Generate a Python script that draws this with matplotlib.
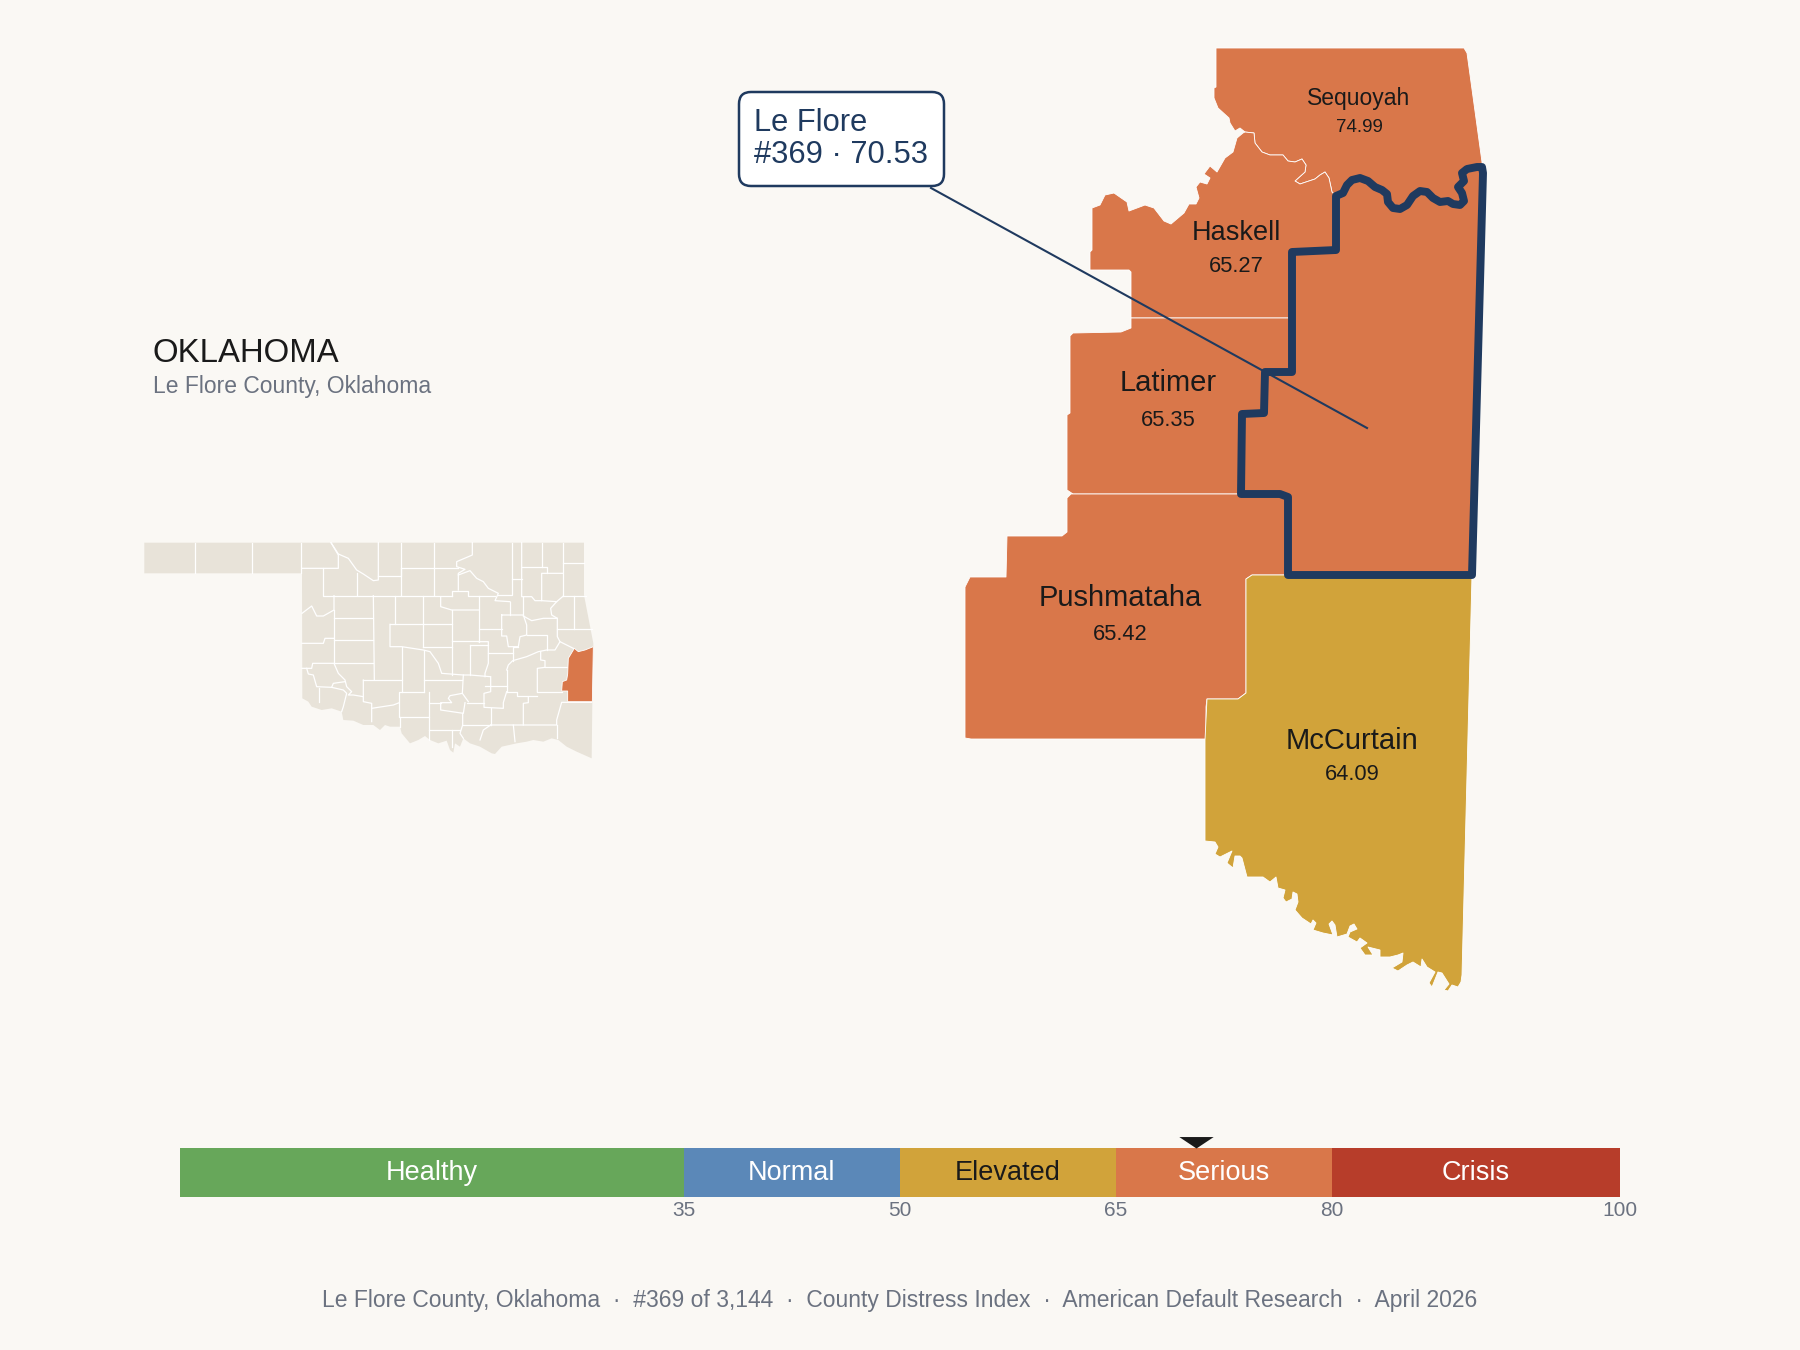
import matplotlib
matplotlib.use("Agg")
import matplotlib.pyplot as plt
from matplotlib.patches import FancyBboxPatch, Polygon

plt.rcParams['font.family'] = ['Liberation Sans', 'DejaVu Sans']

BG = "#FAF8F4"
ORANGE = "#D9774A"
GOLD = "#D1A33A"
NAVY = "#1F3A5F"
INK = "#1A1A1A"
GREY = "#6B7280"
LAND = "#E8E3D9"

# severity scale
band_names = ["Healthy", "Normal", "Elevated", "Serious", "Crisis"]
band_edges = [0, 35, 50, 65, 80, 100]
band_colors = ["#67A75A", "#5B88B8", GOLD, ORANGE, "#B73D2A"]
band_text = ["white", "white", INK, "white", "white"]
tick_values = [35, 50, 65, 80, 100]
score = 70.53

# neighbouring counties: name, score, colour, label position, sizes
county_names = ["Sequoyah", "Haskell", "Latimer", "Pushmataha", "McCurtain"]
county_scores = [74.99, 65.27, 65.35, 65.42, 64.09]
county_colors = [ORANGE, ORANGE, ORANGE, ORANGE, GOLD]
label_xy = [(1359, 98), (1236, 233), (1168, 383), (1120, 598), (1352, 741)]
value_y = [128, 267, 420, 635, 775]
name_sizes = [11, 13, 14, 14, 14]
value_sizes = [9, 10.5, 10.5, 10.5, 10.5]

# outlines, in map units of the main panel
river_north = [(1336, 196), (1343, 193), (1347, 185), (1352, 180), (1360, 178), (1368, 181),
               (1375, 187), (1382, 190), (1387, 194), (1388, 202), (1393, 208), (1400, 209),
               (1407, 205), (1413, 196), (1420, 191), (1427, 192), (1433, 198), (1440, 202),
               (1448, 201), (1453, 204), (1460, 205), (1464, 201), (1462, 193), (1458, 187),
               (1464, 181), (1462, 173), (1467, 169), (1477, 167), (1482, 167)]
leflore_rest = [(1483, 173), (1472, 575), (1288, 575), (1288, 497), (1280, 494),
                (1241, 494), (1242, 414), (1264, 413), (1265, 372), (1292, 372),
                (1292, 252), (1336, 250)]
river_west = [(1332, 192), (1329, 178), (1325, 172), (1320, 175), (1315, 179), (1300, 184),
              (1295, 181), (1305, 172), (1306, 165), (1302, 159), (1295, 162), (1288, 161),
              (1283, 155), (1270, 155), (1262, 152), (1255, 143), (1254, 133), (1245, 132)]
sequoyah_north = [(1240, 128), (1235, 131), (1230, 123), (1229, 118), (1218, 108), (1214, 98),
                  (1214, 88), (1216, 87), (1216, 48), (1464, 48), (1467, 53), (1482, 162)]
haskell_north = [(1243, 133), (1237, 138), (1233, 152), (1225, 158), (1217, 172),
                 (1210, 166), (1204, 174), (1210, 178), (1207, 184), (1200, 182),
                 (1196, 187), (1199, 198), (1196, 204), (1189, 204), (1184, 213),
                 (1171, 224), (1164, 221), (1154, 208), (1145, 205), (1129, 211),
                 (1127, 202), (1114, 193), (1105, 195), (1100, 205), (1092, 208),
                 (1092, 250), (1090, 252), (1090, 270), (1129, 270), (1131, 272),
                 (1131, 318), (1292, 318), (1292, 252), (1336, 250), (1336, 196)]
latimer = [(1131, 318), (1131, 328), (1121, 332), (1073, 333), (1070, 336), (1070, 413),
           (1067, 415), (1067, 490), (1073, 494), (1241, 494), (1242, 414), (1264, 413),
           (1265, 372), (1292, 372), (1292, 318)]
pushmataha = [(1067, 498), (1071, 494), (1288, 494), (1288, 575), (1252, 575), (1246, 579),
              (1246, 693), (1238, 699), (1207, 699), (1206, 707), (1206, 739), (971, 739),
              (965, 738), (965, 587), (970, 577), (1006, 577), (1007, 536), (1062, 536),
              (1067, 532)]
mccurtain = [(1246, 579), (1252, 575), (1472, 575), (1462, 975), (1461, 982), (1458, 987),
             (1452, 985), (1448, 991), (1444, 990), (1449, 984), (1442, 973), (1438, 972),
             (1432, 987), (1429, 983), (1435, 972), (1427, 967), (1422, 959), (1421, 967),
             (1413, 962), (1407, 965), (1398, 971), (1392, 968), (1402, 962), (1403, 953),
             (1398, 955), (1390, 957), (1380, 957), (1380, 950), (1368, 947), (1373, 955),
             (1365, 955), (1360, 948), (1367, 943), (1360, 938), (1357, 942), (1348, 937),
             (1350, 932), (1357, 929), (1354, 924), (1350, 926), (1347, 934), (1337, 937),
             (1335, 925), (1332, 921), (1329, 924), (1333, 935), (1323, 933), (1313, 930),
             (1316, 923), (1313, 920), (1311, 924), (1302, 918), (1295, 910), (1298, 902),
             (1297, 894), (1293, 892), (1292, 899), (1286, 902), (1283, 898), (1285, 890),
             (1278, 888), (1276, 877), (1270, 882), (1263, 877), (1247, 877), (1242, 858),
             (1240, 856), (1235, 856), (1233, 868), (1227, 863), (1232, 851), (1228, 853),
             (1220, 857), (1215, 854), (1218, 847), (1215, 842), (1205, 841), (1205, 740),
             (1207, 699), (1238, 699), (1246, 693)]

sequoyah = river_north + sequoyah_north[::-1] + river_west[::-1]
haskell = river_west + haskell_north
leflore = river_north + leflore_rest

# state locator map, in its own units
state_outline = [(43, 38), (1362, 38), (1362, 195), (1390, 340), (1390, 350), (1387, 515), (1385, 685),
                 (1340, 665), (1310, 650), (1285, 630), (1265, 625), (1240, 635), (1210, 630),
                 (1190, 635), (1160, 640), (1115, 650), (1095, 672), (1085, 670), (1050, 650),
                 (1020, 640), (1000, 625), (990, 650), (975, 640), (970, 668), (960, 660),
                 (950, 632), (925, 640), (900, 630), (885, 618), (865, 630), (840, 640),
                 (815, 610), (810, 590), (780, 590), (765, 585), (750, 600), (730, 585),
                 (700, 585), (670, 572), (640, 570), (635, 545), (605, 535), (575, 540),
                 (545, 530), (535, 515), (517, 505), (516, 130), (43, 130)]
leflore_inset = [(1333, 355), (1345, 365), (1365, 360), (1390, 350), (1387, 515), (1313, 515),
                 (1313, 483), (1295, 483), (1297, 455), (1310, 450), (1313, 432), (1315, 385)]
county_lines = [
    [(195, 38), (195, 130)], [(365, 38), (365, 130)], [(513, 38), (513, 130)],
    [(516, 115), (625, 115), (625, 75), (603, 38)],
    [(603, 38), (625, 72), (655, 85), (680, 120), (700, 132), (730, 152), (745, 150), (745, 38)],
    [(745, 138), (812, 138), (812, 38)], [(812, 115), (912, 115), (912, 38)], [(912, 115), (985, 115)],
    [(1027, 38), (1027, 75), (980, 95), (980, 110), (1005, 118), (985, 130), (985, 180)],
    [(912, 115), (912, 195)], [(812, 115), (812, 195)], [(680, 130), (680, 195)],
    [(578, 115), (578, 197), (965, 197)], [(965, 197), (965, 182), (1015, 182), (1015, 198), (1095, 198)],
    [(985, 135), (1020, 122), (1040, 145), (1060, 155), (1075, 175), (1105, 190), (1095, 212), (1140, 215)],
    [(1145, 38), (1145, 195), (1105, 195)], [(1175, 38), (1175, 200), (1205, 200), (1215, 212), (1235, 212), (1235, 130), (1300, 130)],
    [(1145, 148), (1175, 148)], [(1175, 112), (1250, 112), (1250, 130)], [(1235, 38), (1235, 112)],
    [(1300, 38), (1300, 198)], [(1300, 100), (1362, 100)], [(1235, 212), (1280, 215)], [(1300, 198), (1368, 198)],
    [(1332, 198), (1332, 298)], [(1280, 298), (1385, 298)],
    [(1300, 198), (1280, 215), (1262, 235), (1265, 255), (1282, 265), (1282, 320), (1290, 335)],
    [(612, 197), (612, 240), (580, 258), (560, 258), (545, 228), (516, 250)],
    [(612, 240), (612, 400)], [(612, 265), (730, 265)], [(612, 330), (730, 330)], [(612, 400), (730, 400)],
    [(730, 197), (733, 450)], [(796, 197), (796, 283)], [(880, 197), (880, 350)], [(780, 283), (965, 283)],
    [(780, 283), (780, 350), (815, 350), (880, 360), (900, 365), (925, 400), (935, 430), (1000, 435), (1020, 435), (1080, 440)],
    [(880, 350), (965, 350)], [(815, 350), (815, 485)], [(965, 240), (965, 435)],
    [(932, 200), (932, 230), (965, 240), (1048, 240)], [(1048, 198), (1048, 335)], [(965, 333), (1048, 333)],
    [(1048, 298), (1115, 298)],
    [(1115, 255), (1180, 255), (1190, 285), (1190, 315), (1170, 320), (1165, 350), (1135, 350), (1130, 318), (1115, 318), (1115, 255)],
    [(1140, 215), (1140, 255)], [(1180, 200), (1180, 255)], [(1180, 258), (1205, 272), (1240, 265), (1282, 265)],
    [(1190, 315), (1250, 315), (1250, 360)], [(1165, 350), (1148, 350), (1148, 392)],
    [(1045, 335), (1075, 335), (1075, 400), (1065, 430), (1065, 440)], [(1020, 345), (1020, 435)], [(1020, 345), (1075, 345)],
    [(1075, 368), (1148, 368)],
    [(1130, 420), (1135, 405), (1148, 392), (1190, 380), (1225, 365), (1250, 360), (1275, 360), (1290, 335), (1330, 355)],
    [(1232, 365), (1232, 390), (1245, 392), (1245, 412), (1222, 415), (1222, 485)], [(1130, 420), (1130, 485)],
    [(1245, 412), (1315, 412)], [(1130, 485), (1160, 485), (1160, 498), (1222, 498)], [(1222, 485), (1295, 485)],
    [(1195, 500), (1195, 518), (1180, 520), (1180, 585)],
    [(1082, 440), (1082, 485), (1062, 490), (1062, 532), (1120, 535), (1120, 518), (1130, 485)],
    [(1065, 468), (1130, 468)], [(1062, 518), (1010, 518)], [(1082, 535), (1082, 585)],
    [(1000, 435), (997, 490), (1015, 515)], [(997, 490), (960, 497), (955, 505), (965, 518), (932, 518), (932, 540), (1000, 550), (1005, 518)],
    [(883, 450), (997, 450)], [(883, 360), (883, 485)], [(883, 485), (808, 485), (808, 560), (898, 560), (898, 485)],
    [(898, 518), (932, 518)], [(998, 550), (998, 585), (990, 610), (1000, 625)], [(998, 585), (1082, 585)],
    [(1082, 585), (1060, 600), (1050, 630)], [(1082, 585), (1150, 585), (1155, 635)],
    [(1150, 585), (1280, 585), (1280, 570), (1295, 517), (1385, 517)], [(1280, 585), (1280, 625)],
    [(898, 560), (898, 630)], [(898, 600), (990, 600)], [(965, 600), (965, 650)], [(810, 560), (810, 590)],
    [(700, 450), (815, 450)], [(700, 450), (700, 515), (725, 520), (725, 575)], [(725, 535), (790, 525), (808, 518)],
    [(516, 415), (545, 415), (548, 400), (612, 400), (625, 430), (645, 450), (650, 470), (665, 485), (655, 495), (670, 495), (700, 500)],
    [(516, 340), (580, 340), (585, 325), (612, 325)],
    [(530, 415), (535, 432), (550, 435), (560, 470), (605, 472), (610, 460), (645, 455)],
    [(568, 475), (568, 515)], [(605, 472), (640, 480), (650, 490), (640, 530), (635, 545)],
]

fig = plt.figure(figsize=(12, 9), dpi=150, facecolor=BG)

ax = fig.add_axes([0, 0, 1, 1])
ax.set_xlim(0, 1800)
ax.set_ylim(1350, 0)
ax.axis("off")

outlines = [sequoyah, haskell, latimer, pushmataha, mccurtain]
for shape, color in zip(outlines, county_colors):
    ax.add_patch(Polygon(shape, closed=True, facecolor=color, edgecolor="white", linewidth=0.4,
                         joinstyle="round"))
ax.add_patch(Polygon(leflore, closed=True, facecolor=ORANGE, edgecolor=NAVY, linewidth=3.8,
                     joinstyle="round", zorder=3))
ax.plot([931, 1367], [188, 428], color=NAVY, linewidth=1, zorder=4)

for i, name in enumerate(county_names):
    x, y = label_xy[i]
    ax.text(x, y, name, ha="center", va="center", fontsize=name_sizes[i], color=INK, zorder=5)
    ax.text(x, value_y[i], f"{county_scores[i]:.2f}", ha="center", va="center",
            fontsize=value_sizes[i], color=INK, zorder=5)

ax.add_patch(FancyBboxPatch((749, 102), 185, 74, boxstyle="round,pad=10,rounding_size=12",
                            facecolor="white", edgecolor=NAVY, linewidth=1.2, zorder=6))
ax.text(754, 123, "Le Flore", ha="left", va="center", fontsize=14.8, color=NAVY, zorder=7)
ax.text(754, 155, f"#369 · {score:.2f}", ha="left", va="center", fontsize=14.8, color=NAVY, zorder=7)

ax.text(152, 354, "OKLAHOMA", ha="left", va="center", fontsize=15.8, color=INK)
ax.text(153, 386, "Le Flore County, Oklahoma", ha="left", va="center", fontsize=11, color=GREY)
ax.text(900, 1301, "Le Flore County, Oklahoma  ·  #369 of 3,144  ·  County Distress Index  ·  "
        "American Default Research  ·  April 2026",
        ha="center", va="center", fontsize=11, color=GREY)

inset = fig.add_axes([130 / 1800, 1 - 770 / 1350, 480 / 1800, 240 / 1350])
inset.set_xlim(0, 1440)
inset.set_ylim(720, 0)
inset.axis("off")
inset.add_patch(Polygon(state_outline, closed=True, facecolor=LAND, edgecolor="none"))
for line in county_lines:
    inset.plot([p[0] for p in line], [p[1] for p in line], color="white", linewidth=0.6)
inset.add_patch(Polygon(leflore_inset, closed=True, facecolor=ORANGE, edgecolor="white", linewidth=0.4, zorder=3))

bar = fig.add_axes([180 / 1800, 1 - 1197 / 1350, 1440 / 1800, 49 / 1350])
bar.set_xlim(0, 100)
bar.set_ylim(0, 1)
for i, name in enumerate(band_names):
    left, right = band_edges[i], band_edges[i + 1]
    bar.barh(0.5, right - left, left=left, height=1, color=band_colors[i])
    bar.text((left + right) / 2, 0.5, name, ha="center", va="center", fontsize=13, color=band_text[i])
bar.plot([score], [1], marker=[(-1.5, 1), (1.5, 1), (0, 0)], markersize=16.5, color=INK,
         markeredgewidth=0, clip_on=False, zorder=5)
bar.set_xticks(tick_values)
bar.set_yticks([])
bar.tick_params(axis="x", length=0, pad=2, labelsize=10, labelcolor=GREY)
for spine in bar.spines.values():
    spine.set_visible(False)

plt.savefig("out.png", facecolor=BG)
plt.close()
